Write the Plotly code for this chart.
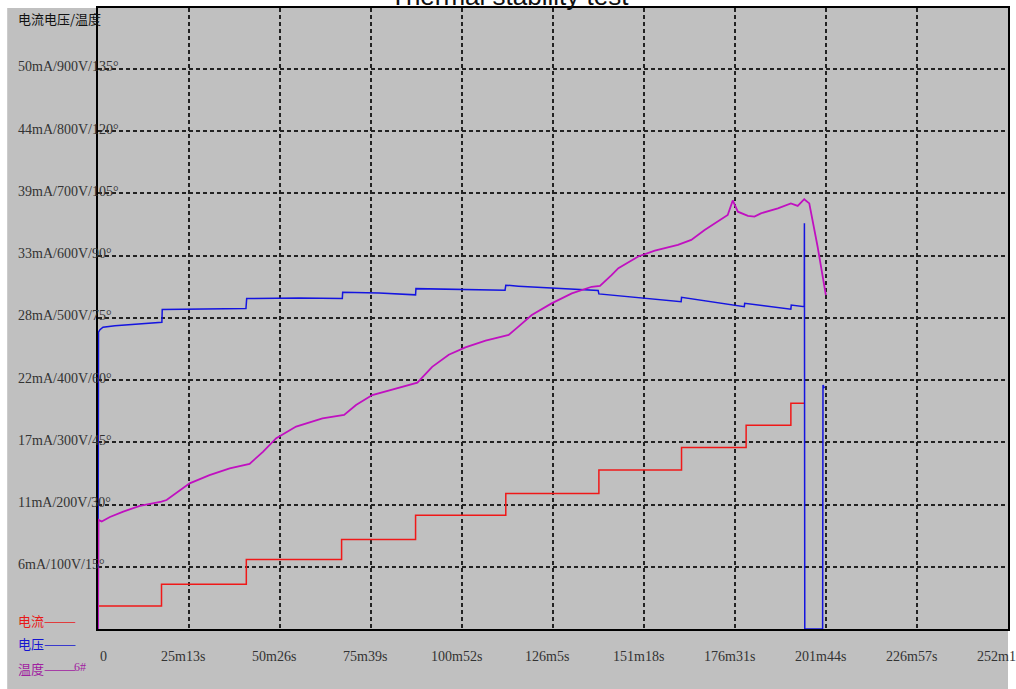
import plotly.graph_objects as go

# ---- data (time in minutes) ----
# current (mA), stepwise
cur_t = [0, 17.6, 41.1, 67.5, 88.0, 113.0, 138.8, 161.7, 179.6, 192.0, 195.7]
cur_mA = [2.05, 4.0, 6.2, 8.0, 10.15, 12.1, 14.2, 16.2, 18.2, 20.15, 20.15]

# voltage (V)
volt_t = [0, 0.14, 0.55, 1.38, 4.7, 11.6, 17.7, 17.8, 28.2, 41.0, 41.2, 55.8, 67.7, 67.8,
          77.9, 88.0, 88.1, 101.8, 112.8, 113.0, 116.5, 138.6, 138.8, 161.6, 161.7,
          179.1, 179.2, 192.0, 192.1, 195.7, 195.75, 195.85, 200.8, 200.9, 201.3]
volt_V = [0, 477, 481, 485, 487.5, 490, 493, 513.5, 514, 515, 531, 532, 531, 541,
          540, 537, 547, 546, 544.5, 552.5, 551, 544, 538.5, 526, 533,
          518, 523.5, 514, 520.5, 518, 652, 0, 0, 392, 387]

# temperature (deg)
temp_t = [0, 0.14, 1.02, 3.3, 7.0, 11.6, 17.6, 19.0, 25.4, 30.9, 36.5, 42.0, 45.7, 49.4,
          54.9, 62.2, 68.2, 71.5, 76.0, 82.5, 88.5, 92.6, 97.2, 101.8, 107.4, 111.9,
          113.8, 116.5, 120.2, 125.7, 131.3, 136.8, 139.1, 142.3, 144.2, 149.7, 154.3,
          160.7, 164.4, 168.1, 173.6, 174.5, 175.9, 177.3, 180.1, 181.9, 183.7, 188.4,
          192.0, 193.9, 195.7, 197.1, 199.4, 201.7]
temp_C = [0, 26.3, 25.9, 27.0, 28.3, 29.7, 30.7, 31.1, 35.1, 37.1, 38.7, 39.8, 42.7, 46.0,
          48.8, 50.8, 51.6, 54.0, 56.4, 58.0, 59.4, 63.2, 66.1, 67.9, 69.5, 70.5,
          70.9, 72.9, 75.7, 78.5, 80.9, 82.5, 82.7, 85.3, 87.0, 89.8, 91.2,
          92.6, 93.8, 96.2, 99.4, 99.8, 103.3, 100.6, 99.6, 99.4, 100.2, 101.4,
          102.6, 102.0, 103.6, 102.6, 92.2, 80.5]

# axis ticks
x_step = 25.2167
x_ticks = [i * x_step for i in range(11)]
x_labels = ["0", "25m13s", "50m26s", "75m39s", "100m52s", "126m5s", "151m18s",
            "176m31s", "201m44s", "226m57s", "252m10s"]
y_ticks = [100, 200, 300, 400, 500, 600, 700, 800, 900]
y_labels = ["6mA/100V/15°", "11mA/200V/30°", "17mA/300V/45°", "22mA/400V/60°",
            "28mA/500V/75°", "33mA/600V/90°", "39mA/700V/105°", "44mA/800V/120°",
            "50mA/900V/135°"]

# common scale: volts; current mA*18, temperature deg/0.15
MA_TO_V = 18.0
DEG_TO_V = 100.0 / 15.0

GRAY = "#c0c0c0"
fig = go.Figure()
fig.add_trace(go.Scatter(x=cur_t, y=[v * MA_TO_V for v in cur_mA], mode="lines",
                         line=dict(color="#f01818", width=1.5, shape="hv"), showlegend=False))
fig.add_trace(go.Scatter(x=volt_t, y=volt_V, mode="lines",
                         line=dict(color="#1414e0", width=1.5), showlegend=False))
fig.add_trace(go.Scatter(x=temp_t, y=[d * DEG_TO_V for d in temp_C], mode="lines",
                         line=dict(color="#c010c0", width=1.8), showlegend=False))

ann = []
serif = "Liberation Serif"
for v, t in zip(y_ticks, y_labels):
    ann.append(dict(x=-82 / 912, xref="paper", y=v, yref="y", text=t, showarrow=False,
                    xanchor="left", yanchor="middle", yshift=2,
                    font=dict(family=serif, size=14, color="#333333")))
for i, (v, t) in enumerate(zip(x_ticks, x_labels)):
    ann.append(dict(x=v, xref="x", y=0, yref="paper", text=t, showarrow=False,
                    xanchor="left" if i == 0 else "center", yanchor="middle",
                    xshift=0 if i == 0 else -6, yshift=-27,
                    font=dict(family=serif, size=14, color="#333333")))
cjk = "Noto Sans CJK SC"
ann.append(dict(x=-82 / 912, xref="paper", y=1, yref="paper", text="电流电压/温度",
                showarrow=False, xanchor="left", yanchor="middle", yshift=-10,
                font=dict(family=cjk, size=13, color="#111111")))
for txt, col, ys in [("电流———", "#e81818", 9), ("电压———", "#1414d0", -14), ("温度———", "#a020a0", -39)]:
    ann.append(dict(x=-82 / 912, xref="paper", y=0, yref="paper", text=txt, showarrow=False,
                    xanchor="left", yanchor="middle", yshift=ys,
                    font=dict(family=cjk, size=13, color=col)))
ann.append(dict(x=-26 / 912, xref="paper", y=0, yref="paper", text="6#", showarrow=False,
                xanchor="left", yanchor="middle", yshift=-38,
                font=dict(family=serif, size=12, color="#a020a0")))
ann.append(dict(x=412 / 912, xref="paper", y=1, yref="paper", text="Thermal stability test",
                showarrow=False, xanchor="center", yanchor="middle", yshift=12,
                font=dict(family="Liberation Sans", size=26, color="#111111")))

fig.update_layout(
    width=1016, height=689,
    margin=dict(l=98, r=6, t=8, b=60),
    paper_bgcolor="white", plot_bgcolor=GRAY,
    annotations=ann,
    shapes=[dict(type="rect", xref="paper", yref="paper", x0=-91 / 912, x1=1.0,
                 y0=-60 / 621, y1=1.0, fillcolor=GRAY, line=dict(width=0), layer="below")],
)
fig.update_xaxes(range=[0, 10 * x_step], tickvals=x_ticks, showticklabels=False, ticks="",
                 showgrid=True, gridcolor="#222222", gridwidth=1.5, griddash="4px,3px",
                 showline=True, linecolor="black", linewidth=1.5, mirror=True, zeroline=False)
fig.update_yaxes(range=[0, 998], tickvals=y_ticks, showticklabels=False, ticks="",
                 showgrid=True, gridcolor="#222222", gridwidth=1.5, griddash="4px,3px",
                 showline=True, linecolor="black", linewidth=1.5, mirror=True, zeroline=False)

fig.write_html("out.html", config={"displayModeBar": False},
               post_script="document.body.style.margin='0';document.body.style.overflow='hidden';")
